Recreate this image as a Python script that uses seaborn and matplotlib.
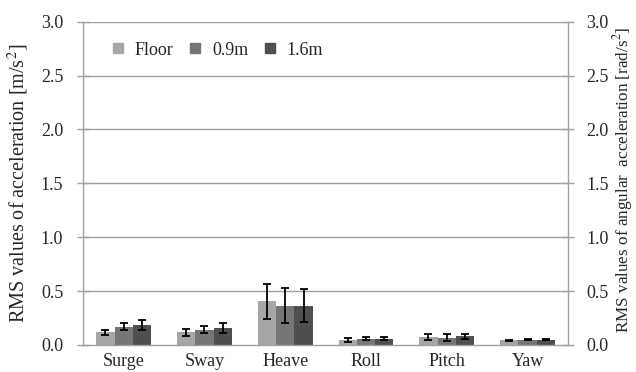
import numpy as np
import pandas as pd
import matplotlib
matplotlib.use("Agg")
import matplotlib.pyplot as plt
from matplotlib.lines import Line2D
import seaborn as sns

# Data
motions = ["Surge", "Sway", "Heave", "Roll", "Pitch", "Yaw"]
positions = ["Floor", "0.9m", "1.6m"]
floor_mean = [0.118, 0.118, 0.406, 0.047, 0.071, 0.043]
m09_mean = [0.170, 0.143, 0.366, 0.059, 0.068, 0.050]
m16_mean = [0.186, 0.158, 0.366, 0.059, 0.081, 0.050]
floor_err = [0.025, 0.034, 0.163, 0.017, 0.028, 0.003]
m09_err = [0.035, 0.031, 0.163, 0.016, 0.030, 0.005]
m16_err = [0.044, 0.050, 0.157, 0.016, 0.025, 0.005]
yticks = [0.0, 0.5, 1.0, 1.5, 2.0, 2.5, 3.0]

colors = ["#a6a6a6", "#767676", "#4f4f4f"]

df = pd.DataFrame({
    "motion": motions * 3,
    "position": sum([[p] * len(motions) for p in positions], []),
    "value": floor_mean + m09_mean + m16_mean,
    "err": floor_err + m09_err + m16_err,
})

sns.set_style("white")
plt.rcParams["font.family"] = ["Liberation Serif", "DejaVu Serif"]
plt.rcParams["mathtext.fontset"] = "stix"
fs = 13

fig = plt.figure(figsize=(6.36, 3.72), dpi=100)
ax = fig.add_axes([0.131, 0.0726, 0.762, 0.869])

grid_c = "#a0a0a0"
for y in yticks[1:]:
    ax.axhline(y, color=grid_c, lw=1.0, zorder=0)

sns.barplot(data=df, x="motion", y="value", hue="position", palette=colors,
            errorbar=None, width=0.68, ax=ax, legend=False, zorder=2,
            linewidth=0)

# error bars at bar centres
for cont, pos in zip(ax.containers, positions):
    sub = df[df["position"] == pos]
    xs = [b.get_x() + b.get_width() / 2 for b in cont]
    ax.errorbar(xs, sub["value"], yerr=sub["err"], fmt="none", ecolor="black",
                elinewidth=1.3, capsize=3.2, capthick=1.3, zorder=3)

ax.set_ylim(0, 3.0)
ax.set_xlim(-0.5, len(motions) - 0.5)
ax.set_yticks(yticks)
ax.set_yticklabels([f"{v:.1f}" for v in yticks], fontsize=fs)
ax.set_xlabel("")
ax.set_ylabel("RMS values of acceleration [m/s$^2$]", fontsize=14.5)
ax.yaxis.set_label_coords(-0.108, 0.5)
ax.set_xticks(range(len(motions)))
ax.set_xticklabels(motions, fontsize=fs)
ax.tick_params(axis="x", length=0, pad=6)
ax.set_xticks(np.arange(-0.5, len(motions) + 0.5, 1), minor=True)
ax.tick_params(axis="x", which="minor", length=4.5, width=1, color=grid_c, direction="out")
ax.tick_params(axis="y", length=9, width=1, color=grid_c, direction="inout", left=True, pad=10)
for s in ["top", "right"]:
    ax.spines[s].set_visible(False)
for s in ["left", "bottom"]:
    ax.spines[s].set_color(grid_c)
    ax.spines[s].set_linewidth(1.0)

ax2 = ax.twinx()
ax2.set_ylim(0, 3.0)
ax2.set_yticks(yticks)
ax2.set_yticklabels([f"{v:.1f}" for v in yticks], fontsize=fs)
ax2.set_ylabel("RMS values of angular  acceleration [rad/s$^2$]", fontsize=12.3)
ax2.yaxis.set_label_coords(1.088, 0.51)
ax2.tick_params(axis="y", length=9, width=1, color=grid_c, direction="inout", pad=8.5)
for s in ["top", "left", "bottom"]:
    ax2.spines[s].set_visible(False)
ax2.spines["right"].set_color(grid_c)
ax2.spines["right"].set_linewidth(1.0)

handles = [Line2D([], [], marker="s", ls="none", color=c, markersize=7.2) for c in colors]
ax.legend(handles, positions, loc="center left", bbox_to_anchor=(0.056, 0.912),
          ncol=3, frameon=False, fontsize=fs, handletextpad=0.55,
          columnspacing=0.78, handlelength=0.8, borderpad=0, borderaxespad=0)

fig.savefig("out.png", dpi=100)
